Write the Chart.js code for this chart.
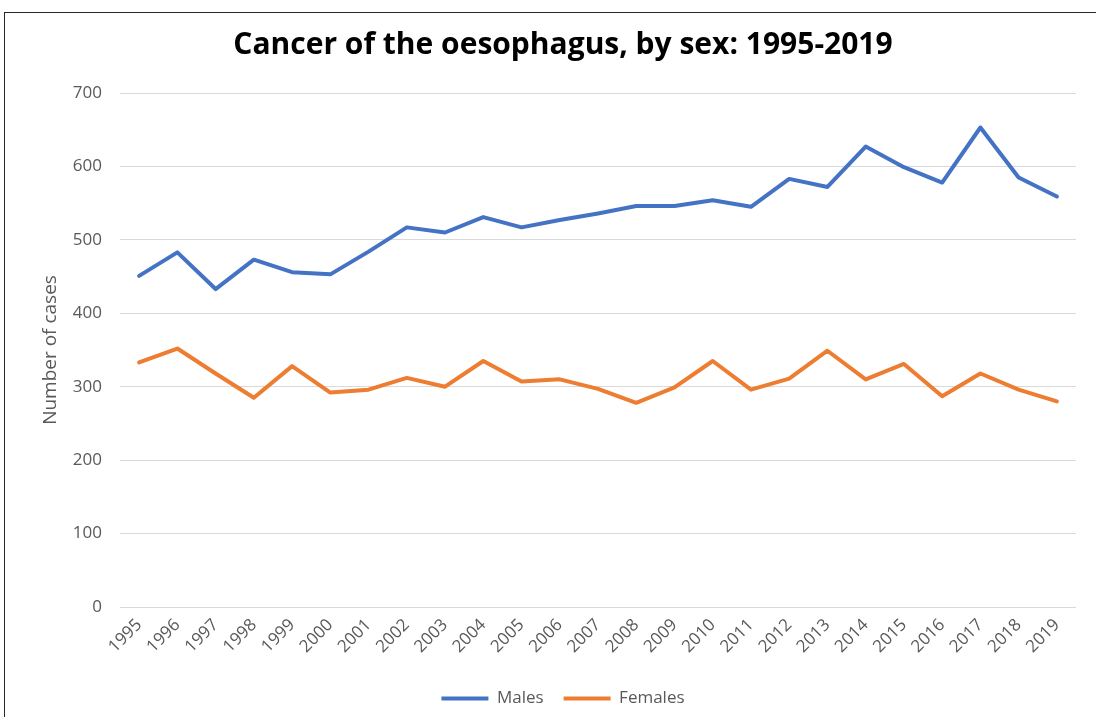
<!DOCTYPE html>
<html lang="en">
<head>
    <meta charset="UTF-8">
    <title>Cancer of the oesophagus, by sex: 1995-2019</title>
    <script src="https://cdn.jsdelivr.net/npm/chart.js"></script>
    <style>
        html, body {
            margin: 0;
            padding: 0;
            background: #fff;
            overflow: hidden;
            width: 1096px;
            height: 717px;
        }
        .frame {
            position: absolute;
            left: 4px;
            top: 12px;
            width: 2000px;
            height: 2000px;
            border-left: 1px solid #262626;
            border-top: 1px solid #262626;
        }
        #chart {
            position: absolute;
            left: 0;
            top: 0;
        }
    </style>
</head>
<body>
    <div class="frame"></div>
    <canvas id="chart" width="1126" height="717"></canvas>

    <script>
        // Data
        const years = ['1995', '1996', '1997', '1998', '1999', '2000', '2001', '2002', '2003', '2004',
                       '2005', '2006', '2007', '2008', '2009', '2010', '2011', '2012', '2013', '2014',
                       '2015', '2016', '2017', '2018', '2019'];
        const males = [451, 483, 433, 473, 456, 453, 484, 517, 510, 531,
                       517, 527, 536, 546, 546, 554, 545, 583, 572, 627,
                       599, 578, 653, 585, 559];
        const females = [333, 352, 318, 285, 328, 292, 296, 312, 300, 335,
                         307, 310, 297, 278, 299, 335, 296, 311, 349, 310,
                         331, 287, 318, 296, 280];
        const yTicks = [0, 100, 200, 300, 400, 500, 600, 700];

        const axisGrey = '#595959';
        const font = 'Open Sans';

        new Chart(document.getElementById('chart').getContext('2d'), {
            type: 'line',
            data: {
                labels: years,
                datasets: [
                    {
                        label: 'Males',
                        data: males,
                        borderColor: '#4472C4',
                        backgroundColor: '#4472C4',
                        borderWidth: 4,
                        pointRadius: 0,
                        tension: 0,
                        borderCapStyle: 'round',
                        borderJoinStyle: 'round'
                    },
                    {
                        label: 'Females',
                        data: females,
                        borderColor: '#ED7D31',
                        backgroundColor: '#ED7D31',
                        borderWidth: 4,
                        pointRadius: 0,
                        tension: 0,
                        borderCapStyle: 'round',
                        borderJoinStyle: 'round'
                    }
                ]
            },
            options: {
                responsive: false,
                animation: false,
                devicePixelRatio: 1,
                layout: { padding: 0 },
                plugins: {
                    title: {
                        display: true,
                        text: 'Cancer of the oesophagus, by sex: 1995-2019',
                        color: '#000',
                        font: { family: font, size: 30, weight: 'bold', lineHeight: 1.2 },
                        padding: { top: 27, bottom: 30 }
                    },
                    legend: {
                        position: 'bottom',
                        labels: {
                            usePointStyle: true,
                            pointStyle: 'line',
                            pointStyleWidth: 47,
                            padding: 20,
                            color: axisGrey,
                            font: { family: font, size: 17 }
                        }
                    },
                    tooltip: { enabled: false }
                },
                scales: {
                    x: {
                        offset: true,
                        grid: { display: false, drawTicks: false },
                        border: { display: false },
                        ticks: {
                            autoSkip: false,
                            maxRotation: 45,
                            minRotation: 45,
                            padding: 8,
                            color: axisGrey,
                            font: { family: font, size: 17 }
                        },
                        afterFit: s => { s.height = 63; }
                    },
                    y: {
                        min: 0,
                        max: 700,
                        afterBuildTicks: s => { s.ticks = yTicks.map(v => ({ value: v })); },
                        grid: { color: '#D9D9D9', lineWidth: 1, drawTicks: false },
                        border: { display: false },
                        ticks: {
                            padding: 18,
                            color: axisGrey,
                            font: { family: font, size: 17 }
                        },
                        title: {
                            display: true,
                            text: 'Number of cases',
                            color: axisGrey,
                            font: { family: font, size: 19 },
                            padding: { top: 39, bottom: 0 }
                        },
                        afterFit: s => { s.width = 120; }
                    },
                    // empty right axis, only keeps the plot's right edge where the original has it
                    spacer: {
                        type: 'linear',
                        position: 'right',
                        grid: { display: false, drawTicks: false },
                        border: { display: false },
                        ticks: { display: false },
                        afterFit: s => { s.width = 50; }
                    }
                }
            }
        });
    </script>
</body>
</html>
